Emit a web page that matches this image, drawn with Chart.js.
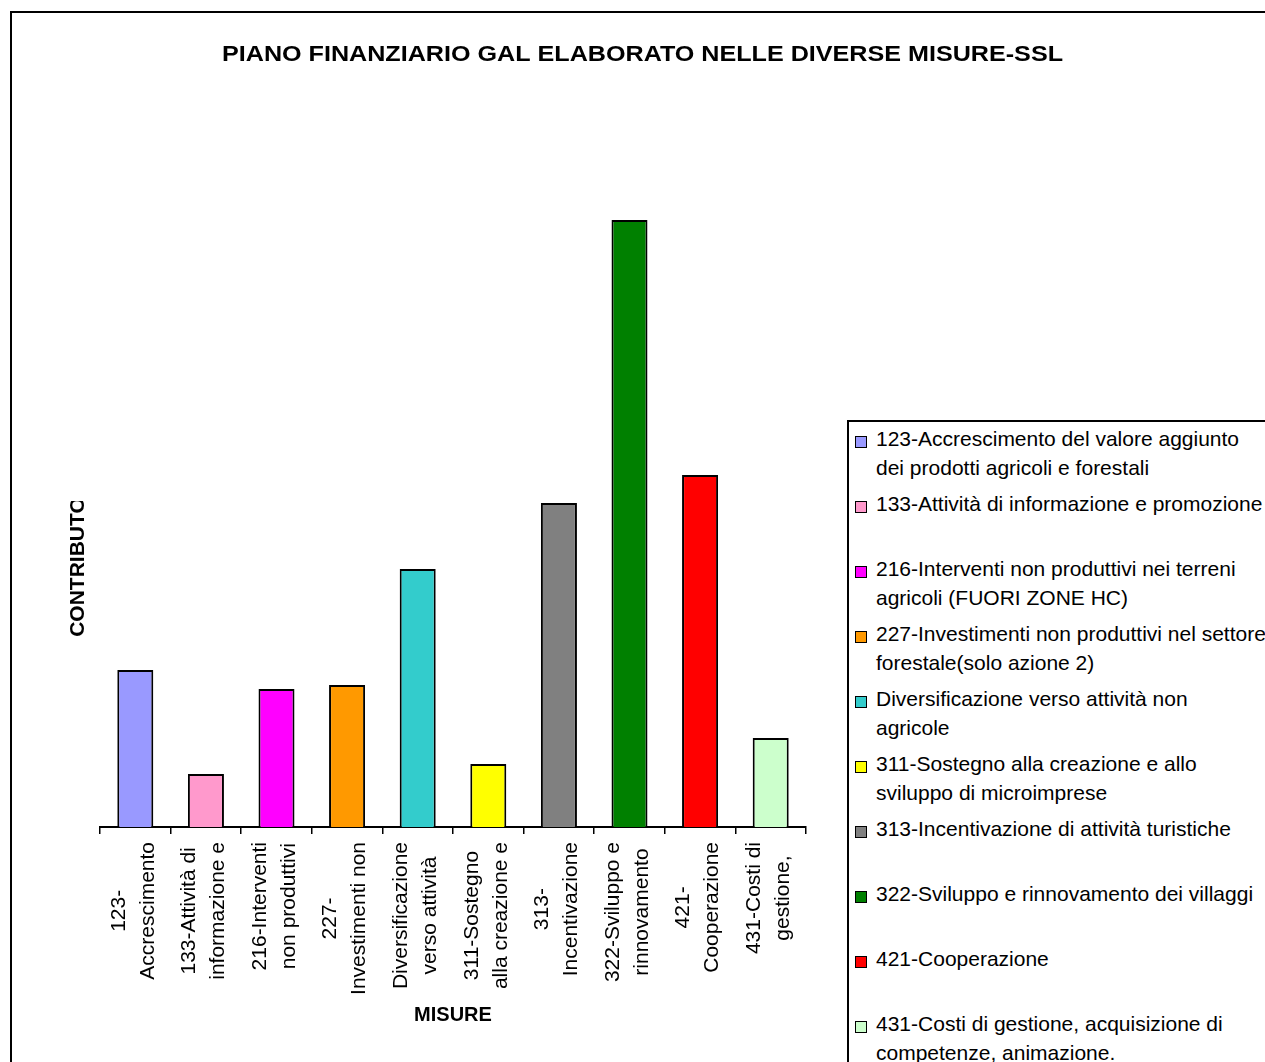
<!DOCTYPE html>
<html>
<head>
<meta charset="utf-8">
<script src="https://cdn.jsdelivr.net/npm/chart.js@4.4.0/dist/chart.umd.min.js"></script>
<style>
  html, body { margin: 0; padding: 0; overflow: hidden; background: #fff; }
  #frame { position: absolute; left: 10px; top: 11px; width: 1400px; height: 1200px; border: 2px solid #000; }
  #chart { position: absolute; left: 0; top: 0; }
  #legend { position: absolute; left: 847px; top: 420px; width: 600px; height: 800px; border: 2px solid #000; background: #fff;
            font-family: 'Liberation Sans', Arial, sans-serif; font-size: 21px; color: #000; }
  .item { position: absolute; left: 27px; line-height: 29px; white-space: nowrap; }
  .sw { position: absolute; left: 6px; width: 10px; height: 10px; border: 1px solid #000; }
</style>
</head>
<body>
<div id="frame"></div>
<canvas id="chart" width="1265" height="1062"></canvas>
<div id="legend"></div>
<script>
const chartTitle = 'PIANO FINANZIARIO GAL ELABORATO NELLE DIVERSE MISURE-SSL';
const xTitle = 'MISURE';
const yTitle = 'CONTRIBUTO';

// axis labels as they are wrapped under the bars
const axisLabels = [
  ['123-', 'Accrescimento'],
  ['133-Attività di', 'informazione e'],
  ['216-Interventi', 'non produttivi'],
  ['227-', 'Investimenti non'],
  ['Diversificazione', 'verso attività'],
  ['311-Sostegno', 'alla creazione e'],
  ['313-', 'Incentivazione'],
  ['322-Sviluppo e', 'rinnovamento'],
  ['421-', 'Cooperazione'],
  ['431-Costi di', 'gestione,']
];

// full names shown in the legend
const legendLabels = [
  ['123-Accrescimento del valore aggiunto', 'dei prodotti agricoli e forestali'],
  ['133-Attività di informazione e promozione'],
  ['216-Interventi non produttivi nei terreni', 'agricoli (FUORI ZONE HC)'],
  ['227-Investimenti non produttivi nel settore', 'forestale(solo azione 2)'],
  ['Diversificazione verso attività non', 'agricole'],
  ['311-Sostegno alla creazione e allo', 'sviluppo di microimprese'],
  ['313-Incentivazione di attività turistiche'],
  ['322-Sviluppo e rinnovamento dei villaggi'],
  ['421-Cooperazione'],
  ['431-Costi di gestione, acquisizione di', 'competenze, animazione.']
];

const values = [157, 53, 138, 142, 258, 63, 324, 607, 352, 89];
const yMax = 700;

const colors = ['#9999FF', '#FF99CC', '#FF00FF', '#FF9900', '#33CCCC',
                '#FFFF00', '#808080', '#008000', '#FF0000', '#CCFFCC'];

const FONT = '"Liberation Sans", Arial, sans-serif';

// titles and rotated, centred category labels
const textPlugin = {
  id: 'texts',
  afterDraw(chart) {
    const ctx = chart.ctx;
    const xs = chart.scales.x;
    const area = chart.chartArea;

    ctx.save();
    ctx.fillStyle = '#000';
    ctx.textAlign = 'center';
    ctx.textBaseline = 'middle';
    ctx.font = 'bold 22px ' + FONT;
    const tw = ctx.measureText(chartTitle).width;
    ctx.translate(642.5, 55);
    ctx.scale(841 / tw, 1);
    ctx.fillText(chartTitle, 0, 0);
    ctx.restore();

    // the axis title is cut at the top, as in the original
    ctx.save();
    ctx.fillStyle = '#000';
    ctx.textAlign = 'center';
    ctx.textBaseline = 'middle';
    ctx.beginPath();
    ctx.rect(0, 501, 200, 300);
    ctx.clip();
    ctx.font = 'bold 21px ' + FONT;
    ctx.translate(78, 567);
    ctx.rotate(-Math.PI / 2);
    ctx.fillText(yTitle, 0, 0);
    ctx.restore();

    ctx.save();
    ctx.fillStyle = '#000';
    ctx.textAlign = 'center';
    ctx.textBaseline = 'middle';
    ctx.font = '21px ' + FONT;
    chart.data.labels.forEach((lines, i) => {
      const px = xs.getPixelForValue(i) - 2;
      const maxW = Math.max(...lines.map(l => ctx.measureText(l).width));
      ctx.save();
      ctx.translate(px, area.bottom + 15 + maxW / 2);
      ctx.rotate(-Math.PI / 2);
      lines.forEach((l, j) => ctx.fillText(l, 0, (j - (lines.length - 1) / 2) * 29));
      ctx.restore();
    });
    ctx.restore();
  }
};

new Chart(document.getElementById('chart'), {
  type: 'bar',
  data: {
    labels: axisLabels,
    datasets: [{
      data: values,
      backgroundColor: colors,
      borderColor: '#000',
      borderWidth: 2,
      barPercentage: 0.51,
      categoryPercentage: 1
    }]
  },
  options: {
    responsive: false,
    animation: false,
    layout: { padding: { left: 100, right: 459, top: 827 - yMax, bottom: 0 } },
    plugins: { legend: { display: false }, tooltip: { enabled: false } },
    scales: {
      x: {
        grid: { drawOnChartArea: false, drawTicks: true, tickLength: 7, color: '#000', lineWidth: 1.5, offset: true },
        border: { display: true, color: '#000', width: 2 },
        ticks: { display: false },
        title: { display: true, text: xTitle, color: '#000', font: { family: FONT, size: 20, weight: 'bold' }, padding: { top: 0, bottom: 35 } },
        afterFit: s => { s.height = 1062 - 827; }
      },
      y: { display: false, min: 0, max: yMax }
    }
  },
  plugins: [textPlugin]
});

// legend built from the same names and colours
const legend = document.getElementById('legend');
legendLabels.forEach((lines, i) => {
  const sw = document.createElement('div');
  sw.className = 'sw';
  sw.style.top = (14 + 65 * i) + 'px';
  sw.style.background = colors[i];
  legend.appendChild(sw);
  const it = document.createElement('div');
  it.className = 'item';
  it.style.top = (2 + 65 * i) + 'px';
  it.innerHTML = lines.join('<br>');
  legend.appendChild(it);
});
</script>
</body>
</html>
